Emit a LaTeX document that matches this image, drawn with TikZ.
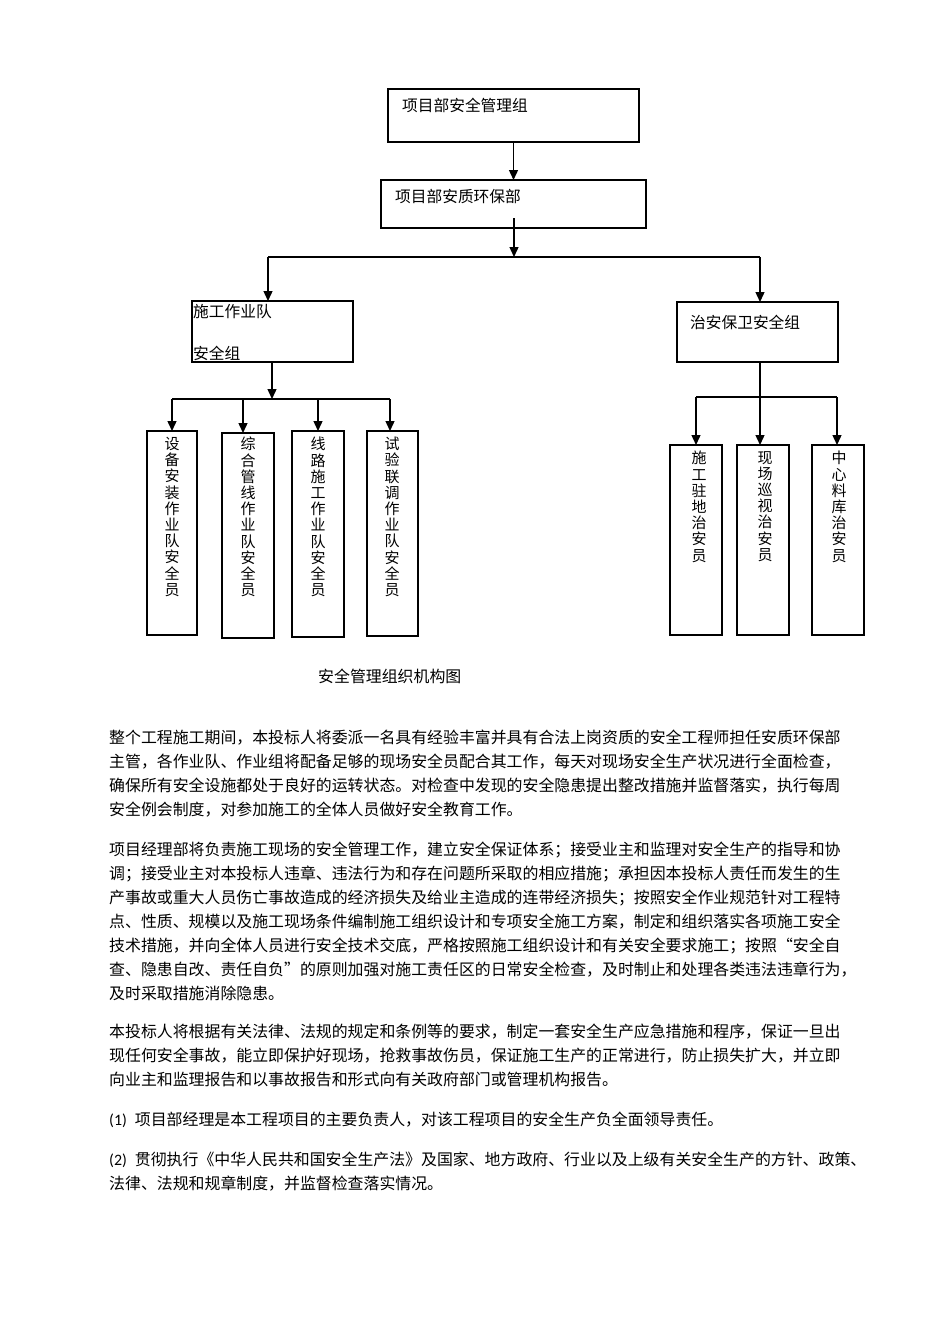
\documentclass[tikz,border=0pt]{standalone}
\usepackage{fontspec}
\setmainfont{Noto Sans CJK SC}
\newfontfamily\latinf{Carlito}
\usetikzlibrary{arrows.meta}
\XeTeXinterchartokenstate=1
\XeTeXinterchartoks 1 1 = {\hskip 0pt plus 1pt\relax}
\XeTeXinterchartoks 1 3 = {\hskip 0pt plus 1pt\relax}
\XeTeXinterchartoks 3 1 = {\hskip 0pt plus 1pt\relax}
\XeTeXinterchartoks 2 1 = {\hskip 0pt plus 1pt\relax}
\XeTeXinterchartoks 1 2 = {\hskip 0pt plus 1pt\relax}
\XeTeXinterchartoks 3 2 = {\hskip 0pt plus 1pt\relax}
\newcommand\jl[2]{\makebox[#1pt][s]{#2}}
\begin{document}
\begin{tikzpicture}[x=1pt,y=-1pt,
  box/.style={draw,line width=1.2pt,inner sep=0pt,outer sep=0pt,anchor=north west},
  arr/.style={line width=1.4pt,-{Triangle[width=9pt,length=10pt]}},
  ln/.style={line width=1.3pt},
  lbl/.style={inner sep=0pt,anchor=west,font=\fontsize{15.7}{18}\selectfont},
  vt/.style={inner sep=0pt,anchor=north,align=center,font=\fontsize{15}{16.2}\selectfont},
  body/.style={inner sep=0pt,anchor=base west,font=\fontsize{15.9}{24}\selectfont}]
\useasboundingbox[fill=white] (0,0) rectangle (950,1344);

% boxes
\node[box,minimum width=251pt,minimum height=53pt] (top) at (388,89) {};
\node[lbl] (topt) at (402,105) {项目部安全管理组};
\node[box,minimum width=265pt,minimum height=48pt] (aq) at (381,180) {};
\node[lbl] (aqt) at (395,196) {项目部安质环保部};
\node[box,minimum width=161pt,minimum height=61pt] (sg) at (192,301) {};
\node[lbl] (sgt1) at (193,312) {施工作业队};
\node[lbl] (sgt2) at (193,353) {安全组};
\node[box,minimum width=161pt,minimum height=60pt] (za) at (677,302) {};
\node[lbl] (zat) at (690,322) {治安保卫安全组};

% left members
\node[box,minimum width=50pt,minimum height=204pt] (m1) at (147,431) {};
\node[box,minimum width=52pt,minimum height=205pt] (m2) at (222,433) {};
\node[box,minimum width=52pt,minimum height=206pt] (m3) at (292,431) {};
\node[box,minimum width=51pt,minimum height=205pt] (m4) at (367,431) {};
\node[vt] (m1t) at (172,437) {设\\备\\安\\装\\作\\业\\队\\安\\全\\员};
\node[vt] (m2t) at (248,437) {综\\合\\管\\线\\作\\业\\队\\安\\全\\员};
\node[vt] (m3t) at (318,437) {线\\路\\施\\工\\作\\业\\队\\安\\全\\员};
\node[vt] (m4t) at (392,437) {试\\验\\联\\调\\作\\业\\队\\安\\全\\员};

% right members
\node[box,minimum width=52pt,minimum height=190pt] (r1) at (670,445) {};
\node[box,minimum width=52pt,minimum height=190pt] (r2) at (737,445) {};
\node[box,minimum width=52pt,minimum height=190pt] (r3) at (812,445) {};
\node[vt] (r1t) at (699,451) {施\\工\\驻\\地\\治\\安\\员};
\node[vt] (r2t) at (765,451) {现\\场\\巡\\视\\治\\安\\员};
\node[vt] (r3t) at (839,451) {中\\心\\料\\库\\治\\安\\员};

% connectors
\coordinate (j1) at (514,257);
\coordinate (jl) at (268,257);
\coordinate (jr) at (760,257);
\draw[arr] (top.south) -- (aq.north);
\draw[arr] (514,218) -- (j1);
\draw[ln] (jl) -- (jr);
\draw[arr] (jl) -- (jl |- sg.north);
\draw[arr] (jr) -- (jr |- za.north);

\coordinate (ls) at (272,363);
\coordinate (lh) at (272,399);
\coordinate (lh1) at (172,399);
\coordinate (lh2) at (243,399);
\coordinate (lh3) at (318,399);
\coordinate (lh4) at (390,399);
\draw[arr] (ls) -- (lh);
\draw[ln] (lh1) -- (lh4);
\draw[arr] (lh1) -- (lh1 |- m1.north);
\draw[arr] (lh2) -- (lh2 |- m2.north);
\draw[arr] (lh3) -- (lh3 |- m3.north);
\draw[arr] (lh4) -- (lh4 |- m4.north);

\coordinate (rs) at (760,362);
\coordinate (rh1) at (696,397);
\coordinate (rh3) at (837,397);
\draw[arr] (rs) -- (rs |- r2.north);
\draw[ln] (rh1) -- (rh3);
\draw[arr] (rh1) -- (rh1 |- r1.north);
\draw[arr] (rh3) -- (rh3 |- r3.north);

\node[lbl,font=\fontsize{15.9}{18}\selectfont] (cap) at (318,676) {安全管理组织机构图};

% body text
\node[body] (p11) at (109,743.7) {\jl{733}{整个工程施工期间，本投标人将委派一名具有经验丰富并具有合法上岗资质的安全工程师担任安质环保部}};
\node[body] (p12) at (109,767.7) {\jl{733}{主管，各作业队、作业组将配备足够的现场安全员配合其工作，每天对现场安全生产状况进行全面检查，}};
\node[body] (p13) at (109,791.7) {\jl{733}{确保所有安全设施都处于良好的运转状态。对检查中发现的安全隐患提出整改措施并监督落实，执行每周}};
\node[body] (p14) at (109,815.7) {安全例会制度，对参加施工的全体人员做好安全教育工作。};

\node[body] (p21) at (109,855.7) {\jl{733}{项目经理部将负责施工现场的安全管理工作，建立安全保证体系；接受业主和监理对安全生产的指导和协}};
\node[body] (p22) at (109,879.7) {\jl{733}{调；接受业主对本投标人违章、违法行为和存在问题所采取的相应措施；承担因本投标人责任而发生的生}};
\node[body] (p23) at (109,903.7) {\jl{733}{产事故或重大人员伤亡事故造成的经济损失及给业主造成的连带经济损失；按照安全作业规范针对工程特}};
\node[body] (p24) at (109,927.7) {\jl{733}{点、性质、规模以及施工现场条件编制施工组织设计和专项安全施工方案，制定和组织落实各项施工安全}};
\node[body] (p25) at (109,951.7) {\jl{733}{技术措施，并向全体人员进行安全技术交底，严格按照施工组织设计和有关安全要求施工；按照“安全自}};
\node[body] (p26) at (109,975.7) {\jl{749}{查、隐患自改、责任自负”的原则加强对施工责任区的日常安全检查，及时制止和处理各类违法违章行为，}};
\node[body] (p27) at (109,999.7) {及时采取措施消除隐患。};

\node[body] (p31) at (109,1037.7) {\jl{733}{本投标人将根据有关法律、法规的规定和条例等的要求，制定一套安全生产应急措施和程序，保证一旦出}};
\node[body] (p32) at (109,1061.7) {\jl{733}{现任何安全事故，能立即保护好现场，抢救事故伤员，保证施工生产的正常进行，防止损失扩大，并立即}};
\node[body] (p33) at (109,1085.7) {向业主和监理报告和以事故报告和形式向有关政府部门或管理机构报告。};

\node[body] (p41) at (109,1125.7) {{\latinf (1)}\hspace{8pt}项目部经理是本工程项目的主要负责人，对该工程项目的安全生产负全面领导责任。};
\node[body] (p51) at (109,1165.7) {{\latinf (2)}\hspace{8pt}\jl{722}{贯彻执行《中华人民共和国安全生产法》及国家、地方政府、行业以及上级有关安全生产的方针、政策、}};
\node[body] (p52) at (109,1189.7) {法律、法规和规章制度，并监督检查落实情况。};
\end{tikzpicture}
\end{document}
